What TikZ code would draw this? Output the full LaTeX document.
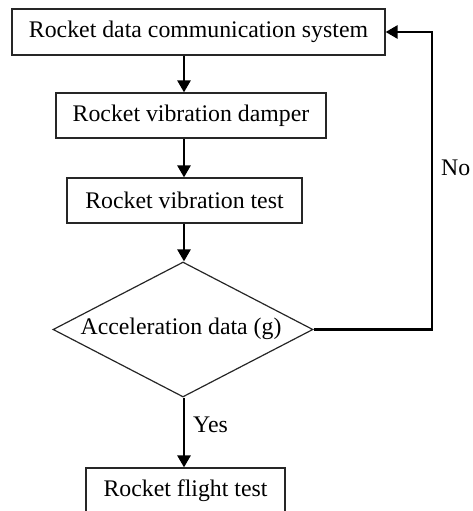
\documentclass[tikz,border=0pt]{standalone}
\usepackage{fontspec}
\setmainfont{Liberation Serif}
\usetikzlibrary{shapes.geometric,arrows.meta}
\begin{document}
\begin{tikzpicture}[x=1pt,y=-1pt,
  every node/.style={font=\fontsize{23.8pt}{28pt}\selectfont},
  procbox/.style={draw=black!85,line width=1.2pt,rectangle,inner sep=0pt},
  decbox/.style={draw=black!85,line width=1.2pt,diamond,inner sep=0pt,minimum width=260pt,minimum height=135pt},
  flow/.style={line width=2.6pt,-{Triangle[width=13pt,length=12pt]}},
  lbl/.style={inner sep=0pt}]
\useasboundingbox (0,0) rectangle (472,511);
\clip (0,0) rectangle (472,511);
\node[procbox,minimum width=373pt,minimum height=46pt] (b1) at (198.5,32) {Rocket data communication system};
\node[procbox,minimum width=270pt,minimum height=45pt] (b2) at (191,115.5) {Rocket vibration damper};
\node[procbox,minimum width=235pt,minimum height=45pt] (b3) at (184.5,200.5) {Rocket vibration test};
\node[decbox] (d) at (183,329.5) {};
\node[lbl] (dt) at (181,329) {Acceleration data (g)};
\node[procbox,minimum width=199pt,minimum height=46pt] (b4) at (185.5,491) {Rocket flight test};
\coordinate (cx) at (184,0);
\coordinate (turn1) at (432,329.5);
\coordinate (turn2) at (432,32);
\draw[flow] (b1.south -| cx) -- (b2.north -| cx);
\draw[flow] (b2.south -| cx) -- (b3.north -| cx);
\draw[flow] (b3.south -| cx) -- (d.north -| cx);
\draw[flow] (d.south -| cx) -- (b4.north -| cx);
\draw[flow] (d.east) -- (turn1) -- (turn2) -- (b1.east);
\node[lbl,anchor=west] (yes) at (193,425) {Yes};
\node[lbl,anchor=west] (no) at (441,168) {No};
\end{tikzpicture}
\end{document}
